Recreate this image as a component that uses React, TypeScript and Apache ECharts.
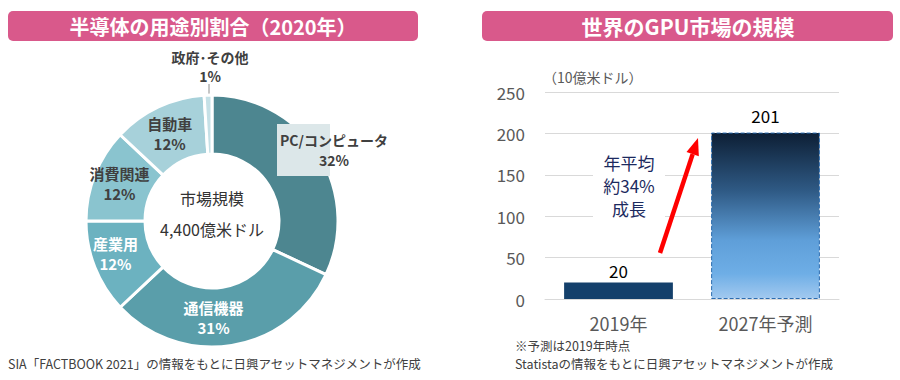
import React, { useEffect, useRef } from "react";
import * as echarts from "echarts";

const pieNames = ["PC/コンピュータ", "通信機器", "産業用", "消費関連", "自動車", "政府･その他"];
const pieValues = [32, 31, 12, 12, 12, 1];
const pieColors = ["#4d8690", "#5a9eaa", "#6cb2c0", "#8ac4cf", "#a7d1da", "#c5e0e6"];
const pieLabelColors = ["#404040", "#ffffff", "#ffffff", "#404040", "#404040", "#404040"];
const marketLabel = "市場規模";
const marketValue = "4,400億米ドル";

const barCategories = ["2019年", "2027年予測"];
const barValues = [20, 201];
const yMin = 0;
const yMax = 250;
const yInterval = 50;

const FONT = "'Noto Sans CJK JP', 'Noto Sans', sans-serif";

export default function App() {
  const ref = useRef<HTMLDivElement>(null);
  useEffect(() => {
    document.body.style.margin = "0";
    const chart = echarts.init(ref.current!, null, { renderer: "svg" });

    // label offsets relative to ECharts' default inside position
    const labelShift: Record<number, [number, number]> = {
      1: [-14, -2],
      2: [-4, -4],
      3: [0, -1],
      4: [0, 3],
    };

    const pieData = pieNames.map((n, i) => {
      const item: any = {
        name: n,
        value: pieValues[i],
        itemStyle: { color: pieColors[i] },
        label: { color: pieLabelColors[i] },
      };
      if (i === 0) item.label = { show: false };
      if (i === 5) {
        item.label = { position: "outside", color: pieLabelColors[i], fontSize: 14, lineHeight: 19 };
        item.labelLine = { show: true, lineStyle: { color: "#8c8c8c", width: 1 } };
      }
      return item;
    });

    const gradient = new echarts.graphic.LinearGradient(0, 0, 0, 1, [
      { offset: 0, color: "#0d1f35" },
      { offset: 0.35, color: "#2f5a85" },
      { offset: 0.65, color: "#5f9fd9" },
      { offset: 0.85, color: "#6eaee6" },
      { offset: 1, color: "#a2c9ef" },
    ]);

    // arrow geometry
    const tail = [660, 253];
    const tip = [698, 138];
    const dx = tip[0] - tail[0];
    const dy = tip[1] - tail[1];
    const len = Math.sqrt(dx * dx + dy * dy);
    const ux = dx / len;
    const uy = dy / len;
    const headLen = 17;
    const headHalf = 6.5;
    const bx = tip[0] - ux * headLen;
    const by = tip[1] - uy * headLen;
    const px = -uy;
    const py = ux;

    chart.setOption({
      animation: false,
      textStyle: { fontFamily: FONT },
      grid: { left: 545, right: 61, top: 92, bottom: 81 },
      xAxis: {
        type: "category",
        data: barCategories,
        axisLine: { lineStyle: { color: "#d9d9d9" } },
        axisTick: { show: false },
        axisLabel: { fontSize: 18, color: "#595959", margin: 15, fontFamily: FONT },
      },
      yAxis: {
        type: "value",
        min: yMin,
        max: yMax,
        interval: yInterval,
        axisLine: { show: false },
        axisTick: { show: false },
        axisLabel: { fontSize: 17, color: "#595959", margin: 20, fontFamily: FONT },
        splitLine: { lineStyle: { color: "#d9d9d9", width: 1 } },
      },
      series: [
        {
          type: "pie",
          center: [212, 221],
          radius: [67, 126],
          startAngle: 90,
          clockwise: true,
          avoidLabelOverlap: false,
          itemStyle: { borderColor: "#ffffff", borderWidth: 3 },
          label: {
            show: true,
            position: "inside",
            formatter: "{b}\n{c}%",
            fontSize: 15,
            fontWeight: "bold",
            lineHeight: 20,
            fontFamily: FONT,
          },
          labelLine: { show: false },
          emphasis: { disabled: true },
          labelLayout: (params: any) => {
            const i = params.dataIndex;
            if (i === 5) {
              return {
                x: 210,
                y: 66,
                align: "center",
                verticalAlign: "middle",
                labelLinePoints: [
                  [209, 84],
                  [209, 100],
                  [209, 124],
                ],
              };
            }
            const s = labelShift[i];
            if (s) return { dx: s[0], dy: s[1] };
            return {};
          },
          data: pieData,
        },
        {
          type: "bar",
          barWidth: "74%",
          data: barValues.map((v, i) =>
            i === 0
              ? { value: v, itemStyle: { color: "#14406b" }, label: { distance: 3 } }
              : {
                  value: v,
                  label: { distance: 9 },
                  itemStyle: {
                    color: gradient,
                    borderColor: "#2b6cb0",
                    borderType: "dashed",
                    borderWidth: 1,
                  },
                }
          ),
          label: {
            show: true,
            position: "top",
            distance: 5,
            fontSize: 17,
            color: "#000000",
            fontFamily: FONT,
          },
        },
      ],
      graphic: [
        {
          type: "rect",
          shape: { x: 8, y: 11, width: 410, height: 30, r: 5 },
          style: { fill: "#d9598b" },
        },
        {
          type: "text",
          x: 213,
          y: 26,
          style: {
            text: "半導体の用途別割合（2020年）",
            fill: "#ffffff",
            fontSize: 20,
            fontWeight: "bold",
            fontFamily: FONT,
            align: "center",
            verticalAlign: "middle",
          },
        },
        {
          type: "rect",
          shape: { x: 482, y: 11, width: 411, height: 30, r: 5 },
          style: { fill: "#d9598b" },
        },
        {
          type: "text",
          x: 688,
          y: 26,
          style: {
            text: "世界のGPU市場の規模",
            fill: "#ffffff",
            fontSize: 21,
            fontWeight: "bold",
            fontFamily: FONT,
            align: "center",
            verticalAlign: "middle",
          },
        },
        // PC label with checkered box
        {
          type: "rect",
          z: 10,
          shape: { x: 277, y: 124, width: 53, height: 52 },
          style: { fill: "#dce7e9" },
        },
        {
          type: "text",
          z: 11,
          x: 334,
          y: 150,
          style: {
            text: `${pieNames[0]}\n${pieValues[0]}%`,
            fill: "#404040",
            fontSize: 14,
            fontWeight: "bold",
            lineHeight: 20,
            fontFamily: FONT,
            align: "center",
            verticalAlign: "middle",
          },
        },
        {
          type: "text",
          z: 11,
          x: 212,
          y: 198,
          style: {
            text: marketLabel,
            fill: "#333333",
            fontSize: 16,
            fontFamily: FONT,
            align: "center",
            verticalAlign: "middle",
          },
        },
        {
          type: "text",
          z: 11,
          x: 212,
          y: 229,
          style: {
            text: marketValue,
            fill: "#333333",
            fontSize: 16,
            fontFamily: FONT,
            align: "center",
            verticalAlign: "middle",
          },
        },
        {
          type: "text",
          x: 8,
          y: 363,
          style: {
            text: "SIA「FACTBOOK 2021」の情報をもとに日興アセットマネジメントが作成",
            fill: "#404040",
            fontSize: 12.5,
            fontFamily: FONT,
            align: "left",
            verticalAlign: "middle",
          },
        },
        {
          type: "text",
          x: 543,
          y: 77,
          style: {
            text: "（10億米ドル）",
            fill: "#595959",
            fontSize: 14,
            fontFamily: FONT,
            align: "left",
            verticalAlign: "middle",
          },
        },
        {
          type: "text",
          x: 515,
          y: 345,
          style: {
            text: "※予測は2019年時点",
            fill: "#404040",
            fontSize: 12.5,
            fontFamily: FONT,
            align: "left",
            verticalAlign: "middle",
          },
        },
        {
          type: "text",
          x: 515,
          y: 363,
          style: {
            text: "Statistaの情報をもとに日興アセットマネジメントが作成",
            fill: "#404040",
            fontSize: 12.5,
            fontFamily: FONT,
            align: "left",
            verticalAlign: "middle",
          },
        },
        {
          type: "rect",
          z: 10,
          shape: { x: 593, y: 150, width: 72, height: 70 },
          style: { fill: "#ffffff" },
        },
        {
          type: "text",
          z: 11,
          x: 629,
          y: 185,
          style: {
            text: "年平均\n約34%\n成長",
            fill: "#1c2a5e",
            fontSize: 17,
            lineHeight: 23,
            fontFamily: FONT,
            align: "center",
            verticalAlign: "middle",
          },
        },
        {
          type: "line",
          z: 12,
          shape: { x1: tail[0], y1: tail[1], x2: bx, y2: by },
          style: { stroke: "#ff0000", lineWidth: 4.5 },
        },
        {
          type: "polygon",
          z: 12,
          shape: {
            points: [
              [tip[0], tip[1]],
              [bx + px * headHalf, by + py * headHalf],
              [bx - px * headHalf, by - py * headHalf],
            ],
          },
          style: { fill: "#ff0000" },
        },
      ],
    });
    return () => chart.dispose();
  }, []);
  return <div ref={ref} style={{ width: 900, height: 380 }} />;
}
